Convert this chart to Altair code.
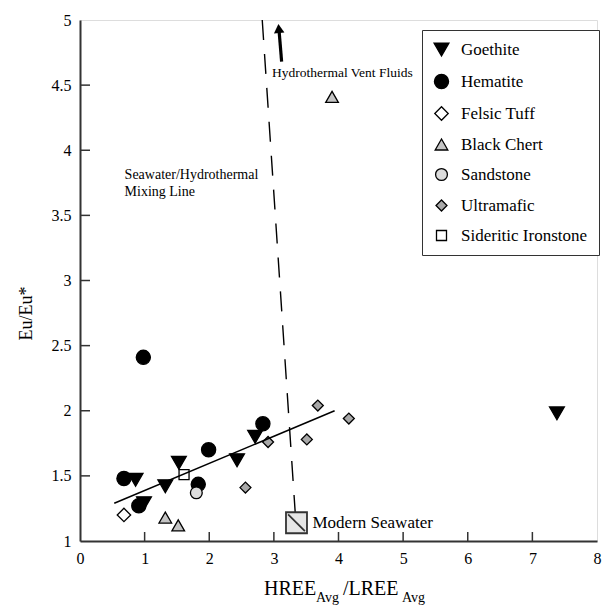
import altair as alt
import pandas as pd

# ---------------- data ----------------
categories = ["Goethite", "Hematite", "Felsic Tuff", "Black Chert",
              "Sandstone", "Ultramafic", "Sideritic Ironstone"]
shapes = ["triangle-down", "circle", "diamond", "triangle-up", "circle", "diamond", "square"]
fills = ["black", "black", "white", "#c4c4c4", "#dcdcdc", "#a8a8a8", "white"]
sizes = [220, 100, 270, 220, 100, 270, 180]

goethite_x = [0.86, 0.99, 1.32, 1.53, 2.43, 2.71, 7.38]
goethite_y = [1.47, 1.29, 1.42, 1.60, 1.62, 1.80, 1.98]
hematite_x = [0.68, 0.91, 0.98, 1.83, 1.99, 2.83]
hematite_y = [1.48, 1.27, 2.41, 1.435, 1.70, 1.90]
felsic_x = [0.68]
felsic_y = [1.20]
chert_x = [1.32, 1.52, 3.90]
chert_y = [1.18, 1.12, 4.41]
sandstone_x = [1.80]
sandstone_y = [1.37]
ultramafic_x = [2.56, 2.91, 3.51, 3.68, 4.16]
ultramafic_y = [1.41, 1.76, 1.78, 2.04, 1.94]
sideritic_x = [1.61]
sideritic_y = [1.51]

fit_x = [0.53, 3.94]
fit_y = [1.29, 2.00]
mix_x = [2.82, 3.33]
mix_y = [5.0, 1.22]
arrow_x = [3.12, 3.08]
arrow_y = [4.68, 4.92]
arrowhead_x = [3.076]
arrowhead_y = [4.935]
seawater_x = [3.35]
seawater_y = [1.14]

x_labels = [0, 1, 2, 3, 4, 5, 6, 7, 8]
y_labels = [1, 1.5, 2, 2.5, 3, 3.5, 4, 4.5, 5]
x_inner_ticks = [1, 2, 3, 4, 5, 6, 7]
y_inner_ticks = [1.5, 2, 2.5, 3, 3.5, 4, 4.5]

# ---------------- tables ----------------
rows = []
for name, xs, ys in [("Goethite", goethite_x, goethite_y),
                     ("Hematite", hematite_x, hematite_y),
                     ("Felsic Tuff", felsic_x, felsic_y),
                     ("Black Chert", chert_x, chert_y),
                     ("Sandstone", sandstone_x, sandstone_y),
                     ("Ultramafic", ultramafic_x, ultramafic_y),
                     ("Sideritic Ironstone", sideritic_x, sideritic_y)]:
    for a, b in zip(xs, ys):
        rows.append({"x": a, "y": b, "type": name})
df = pd.DataFrame(rows)

W, H = 517, 521
FONT = "Liberation Serif"
xsc = alt.Scale(domain=[0, 8], nice=False, zero=False)
ysc = alt.Scale(domain=[1, 5], nice=False, zero=False)

XAX = alt.Axis(values=x_labels, format="d", ticks=False, grid=False, title=None,
               labelFlush=False, labelFontSize=16, labelFont=FONT, labelColor="black",
               labelPadding=9, domainColor="#333", domainWidth=2)
YAX = alt.Axis(values=y_labels, format="~g", ticks=False, grid=False,
               title="Eu/Eu*", titleFont=FONT, titleFontSize=18,
               titleFontWeight="normal", titleColor="black", titlePadding=16,
               titleY=293,
               labelFlush=False, labelFontSize=16, labelFont=FONT,
               labelColor="black", labelPadding=9,
               domainColor="#333", domainWidth=2)


def X(field):
    return alt.X(field, scale=xsc, axis=XAX)


def Y(field):
    return alt.Y(field, scale=ysc, axis=YAX)


leg = alt.Legend(orient="none", legendX=342, legendY=10, title=None,
                 strokeColor="#333", padding=11, rowPadding=12,
                 labelFont=FONT, labelFontSize=17, labelColor="black",
                 labelOffset=11, symbolStrokeWidth=1.3,
                 fillColor="white")

points = alt.Chart(df).mark_point(filled=True, strokeWidth=1.3, opacity=1).encode(
    x=X("x:Q"),
    y=Y("y:Q"),
    shape=alt.Shape("type:N", scale=alt.Scale(domain=categories, range=shapes), legend=leg),
    fill=alt.Fill("type:N", scale=alt.Scale(domain=categories, range=fills), legend=leg),
    stroke=alt.Stroke("type:N", scale=alt.Scale(domain=categories, range=["black"] * 7), legend=leg),
    size=alt.Size("type:N", scale=alt.Scale(domain=categories, range=sizes), legend=leg),
)

xt = alt.Chart(pd.DataFrame({"x": x_inner_ticks})).mark_rule(color="#333", strokeWidth=1.5).encode(
    x=X("x:Q"), y=alt.value(H), y2=alt.value(H - 9))
yt = alt.Chart(pd.DataFrame({"y": y_inner_ticks})).mark_rule(color="#333", strokeWidth=1.5).encode(
    y=Y("y:Q"), x=alt.value(0), x2=alt.value(10))

fit = alt.Chart(pd.DataFrame({"x": fit_x, "y": fit_y})).mark_line(color="black", strokeWidth=1.5).encode(
    x=X("x:Q"), y=Y("y:Q"))
mix = alt.Chart(pd.DataFrame({"x": mix_x, "y": mix_y})).mark_line(
    color="black", strokeWidth=1.4, strokeDash=[20, 14]).encode(
    x=X("x:Q"), y=Y("y:Q"))
shaft = alt.Chart(pd.DataFrame({"x": arrow_x, "y": arrow_y})).mark_line(
    color="black", strokeWidth=3.2).encode(
    x=X("x:Q"), y=Y("y:Q"))
head = alt.Chart(pd.DataFrame({"x": arrowhead_x, "y": arrowhead_y})).mark_point(
    shape="triangle-up", filled=True, color="black", size=110, angle=355, opacity=1).encode(
    x=X("x:Q"), y=Y("y:Q"))

sw = pd.DataFrame({"x": seawater_x, "y": seawater_y})
sea = alt.Chart(sw).mark_point(
    shape="M-1,-1H1V1H-1Z M-0.8,-0.8L0.8,0.8", filled=True, fill="#e6e6e6",
    stroke="#333", strokeWidth=1.8, size=441, opacity=1).encode(
    x=X("x:Q"), y=Y("y:Q"))
sea_txt = alt.Chart(sw).mark_text(text="Modern Seawater", align="left", dx=16,
                                  font=FONT, fontSize=17, color="black").encode(
    x=X("x:Q"), y=Y("y:Q"))

vent_txt = alt.Chart(pd.DataFrame({"x": [2.97], "y": [4.59]})).mark_text(
    text="Hydrothermal Vent Fluids", align="left", font=FONT, fontSize=13.5, color="black").encode(
    x=X("x:Q"), y=Y("y:Q"))
mixl_txt = alt.Chart(pd.DataFrame({"x": [0.69], "y": [3.81]})).mark_text(
    text=["Seawater/Hydrothermal", "Mixing Line"], align="left", baseline="middle",
    lineHeight=17, font=FONT, fontSize=14, color="black").encode(
    x=X("x:Q"), y=Y("y:Q"))

# x-axis title with subscripts
t1 = alt.Chart(pd.DataFrame({"a": [0]})).mark_text(text="HREE", align="left", baseline="alphabetic",
                                                   font=FONT, fontSize=20, color="black").encode(
    x=alt.value(184), y=alt.value(575))
t2 = alt.Chart(pd.DataFrame({"a": [0]})).mark_text(text="Avg", align="left", baseline="alphabetic",
                                                   font=FONT, fontSize=14, color="black").encode(
    x=alt.value(236), y=alt.value(582))
t3 = alt.Chart(pd.DataFrame({"a": [0]})).mark_text(text="/LREE", align="left", baseline="alphabetic",
                                                   font=FONT, fontSize=20, color="black").encode(
    x=alt.value(263), y=alt.value(575))
t4 = alt.Chart(pd.DataFrame({"a": [0]})).mark_text(text="Avg", align="left", baseline="alphabetic",
                                                   font=FONT, fontSize=14, color="black").encode(
    x=alt.value(322), y=alt.value(582))

chart = alt.layer(points, mix, fit, shaft, head, sea, sea_txt, vent_txt, mixl_txt, xt, yt,
                  t1, t2, t3, t4).properties(
    width=W, height=H, autosize="none",
    padding={"left": 80, "top": 20, "right": 6, "bottom": 66},
    background="white",
).configure_view(stroke="#333", strokeWidth=2).configure(font=FONT)

chart.save("out.html", embed_options={"renderer": "svg", "actions": False})
